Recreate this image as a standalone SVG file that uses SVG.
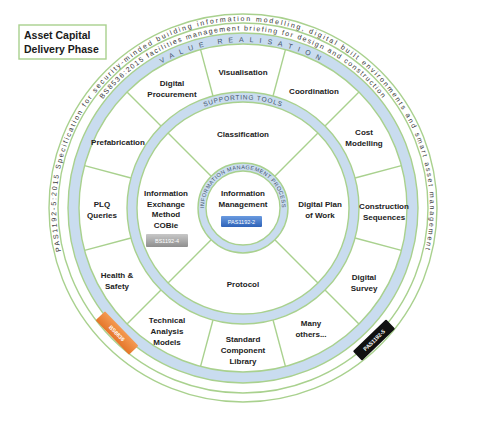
<svg xmlns="http://www.w3.org/2000/svg" width="480" height="424" viewBox="0 0 480 424">
<style>
.g{fill:none;stroke:#a9d18e;stroke-width:1.4}
.band{fill:none;stroke:#c9dcef}
.div{stroke:#a9d18e;stroke-width:1.4}
.lb{font-family:"Liberation Sans",Arial,sans-serif;font-weight:bold;font-size:8px;fill:#222;text-anchor:middle}
.ring{font-family:"Liberation Sans",Arial,sans-serif;font-size:7px;fill:#333}
.band-t{font-family:"Liberation Sans",Arial,sans-serif;fill:#44546a}
.tag{font-family:"Liberation Sans",Arial,sans-serif;font-size:5.5px;fill:#fff;text-anchor:middle}
</style>
<defs>
<linearGradient id="gBlue" x1="0" y1="0" x2="0" y2="1"><stop offset="0" stop-color="#6a9be0"/><stop offset="1" stop-color="#2e62b8"/></linearGradient>
<linearGradient id="gGray" x1="0" y1="0" x2="0" y2="1"><stop offset="0" stop-color="#c8c8c8"/><stop offset="1" stop-color="#8e8e8e"/></linearGradient>
<linearGradient id="gOrange" x1="0" y1="0" x2="0" y2="1"><stop offset="0" stop-color="#f49a52"/><stop offset="1" stop-color="#e5762a"/></linearGradient>
<path id="pPAS" d="M 67.3 272 A 187 187 0 1 1 418.7 272"/>
<path id="pBS" d="M 65.5 208 A 177.5 177.5 0 0 1 420.5 208"/>
<path id="pVR" d="M 77 208 A 166 166 0 0 1 409 208"/>
<path id="pST" d="M 134.5 208 A 108.5 108.5 0 0 1 351.5 208"/>
<path id="pIM" d="M 204 208 A 39 39 0 0 1 282 208"/>
</defs>
<rect width="480" height="424" fill="#fff"/>
<g id="rings">
<circle cx="243" cy="208" r="194" class="g" fill="#fff"/>
<circle cx="243" cy="208" r="185" class="g"/>
<circle cx="243" cy="208" r="169.5" class="band" stroke-width="11"/>
<circle cx="243" cy="208" r="175" class="g"/>
<circle cx="243" cy="208" r="164" class="g"/>
<circle cx="243" cy="208" r="111" class="band" stroke-width="10"/>
<circle cx="243" cy="208" r="116" class="g"/>
<circle cx="243" cy="208" r="106" class="g"/>
<circle cx="243" cy="208" r="41" class="band" stroke-width="8"/>
<circle cx="243" cy="208" r="45" class="g"/>
<circle cx="243" cy="208" r="37" class="g"/>
</g>
<g id="ring-texts">
<text class="ring" letter-spacing="1.85"><textPath href="#pPAS" startOffset="50%" text-anchor="middle">PAS1192-5:2015 Specification for security-minded building information modelling, digital built environments and smart asset management</textPath></text>
<text class="ring" letter-spacing="1.43"><textPath href="#pBS" startOffset="50%" text-anchor="middle">BS8536:2015 facilities management briefing for design and construction</textPath></text>
<text class="band-t" font-size="7" letter-spacing="5.9"><textPath href="#pVR" startOffset="50%" text-anchor="middle">VALUE REALISATION</textPath></text>
<text class="band-t" font-size="6.5" letter-spacing="0.8"><textPath href="#pST" startOffset="50%" text-anchor="middle">SUPPORTING TOOLS</textPath></text>
<text class="band-t" font-size="5.5" letter-spacing="0.5" fill="#2f4f7f"><textPath href="#pIM" startOffset="50%" text-anchor="middle">INFORMATION MANAGEMENT PROCESS</textPath></text>
</g>
<g id="connectors">
<line class="div" x1="285.44" y1="49.59" x2="273.02" y2="95.96"/>
<line class="div" x1="358.97" y1="92.03" x2="325.02" y2="125.98"/>
<line class="div" x1="401.41" y1="165.56" x2="355.04" y2="177.98"/>
<line class="div" x1="401.41" y1="250.44" x2="355.04" y2="238.02"/>
<line class="div" x1="358.97" y1="323.97" x2="325.02" y2="290.02"/>
<line class="div" x1="285.44" y1="366.41" x2="273.02" y2="320.04"/>
<line class="div" x1="200.56" y1="366.41" x2="212.98" y2="320.04"/>
<line class="div" x1="127.03" y1="323.97" x2="160.98" y2="290.02"/>
<line class="div" x1="84.59" y1="250.44" x2="130.96" y2="238.02"/>
<line class="div" x1="84.59" y1="165.56" x2="130.96" y2="177.98"/>
<line class="div" x1="127.03" y1="92.03" x2="160.98" y2="125.98"/>
<line class="div" x1="200.56" y1="49.59" x2="212.98" y2="95.96"/>
<line class="div" x1="317.95" y1="282.95" x2="274.82" y2="239.82"/>
<line class="div" x1="168.05" y1="282.95" x2="211.18" y2="239.82"/>
<line class="div" x1="168.05" y1="133.05" x2="211.18" y2="176.18"/>
<line class="div" x1="317.95" y1="133.05" x2="274.82" y2="176.18"/>
</g>
<g id="title">
<rect x="19" y="25" width="87" height="34" fill="#fff" stroke="#a9d18e" stroke-width="1.4"/>
<text font-family="Liberation Sans,Arial,sans-serif" font-weight="bold" font-size="10.5" fill="#1a1a1a"><tspan x="24" y="39">Asset Capital</tspan><tspan x="24" y="53">Delivery Phase</tspan></text>
</g>
<g id="n-visualisation"><text class="lb" x="243" y="75">Visualisation</text></g>
<g id="n-digital-procurement"><text class="lb"><tspan x="172" y="86">Digital</tspan><tspan x="172" y="97">Procurement</tspan></text></g>
<g id="n-coordination"><text class="lb" x="314" y="94">Coordination</text></g>
<g id="n-cost-modelling"><text class="lb"><tspan x="364" y="135">Cost</tspan><tspan x="364" y="146">Modelling</tspan></text></g>
<g id="n-construction-sequences"><text class="lb"><tspan x="384" y="209">Construction</tspan><tspan x="384" y="219.5">Sequences</tspan></text></g>
<g id="n-digital-survey"><text class="lb"><tspan x="364" y="280">Digital</tspan><tspan x="364" y="290.5">Survey</tspan></text></g>
<g id="n-many-others"><text class="lb"><tspan x="311" y="326">Many</tspan><tspan x="311" y="337">others...</tspan></text></g>
<g id="n-standard-component-library"><text class="lb"><tspan x="243" y="342">Standard</tspan><tspan x="243" y="353">Component</tspan><tspan x="243" y="363.5">Library</tspan></text></g>
<g id="n-technical-analysis-models"><text class="lb"><tspan x="167" y="323">Technical</tspan><tspan x="167" y="334">Analysis</tspan><tspan x="167" y="345">Models</tspan></text></g>
<g id="n-health-safety"><text class="lb"><tspan x="117" y="278">Health &amp;</tspan><tspan x="117" y="289">Safety</tspan></text></g>
<g id="n-plq-queries"><text class="lb"><tspan x="102" y="207">PLQ</tspan><tspan x="102" y="218">Queries</tspan></text></g>
<g id="n-prefabrication"><text class="lb" x="118" y="145">Prefabrication</text></g>
<g id="n-classification"><text class="lb" x="243" y="137">Classification</text></g>
<g id="n-digital-plan-of-work"><text class="lb"><tspan x="320" y="207">Digital Plan</tspan><tspan x="320" y="218">of Work</tspan></text></g>
<g id="n-protocol"><text class="lb" x="243" y="287">Protocol</text></g>
<g id="n-information-exchange"><text class="lb"><tspan x="166" y="196">Information</tspan><tspan x="166" y="206.5">Exchange</tspan><tspan x="166" y="217">Method</tspan><tspan x="166" y="228">COBie</tspan></text>
<rect x="146" y="234" width="42" height="13" rx="1" fill="url(#gGray)"/><text class="tag" x="167" y="242.6">BS1192-4</text></g>
<g id="n-information-management"><text class="lb"><tspan x="243" y="196">Information</tspan><tspan x="243" y="206.5">Management</tspan></text>
<rect x="221" y="216" width="41" height="11" rx="1" fill="url(#gBlue)"/><text class="tag" x="241.5" y="223.5">PAS1192-2</text></g>
<g id="tag-bs8836" transform="translate(117 333) rotate(46)"><rect x="-24" y="-6.5" width="48" height="13" rx="1" fill="url(#gOrange)"/><text class="tag" font-weight="bold" font-size="6" x="0" y="2.2">BS8836</text></g>
<g id="tag-pas1192-5" transform="translate(374 340) rotate(-44)"><rect x="-23" y="-6.5" width="46" height="13" rx="1" fill="#111"/><text class="tag" font-weight="bold" font-size="6" x="0" y="2.2">PAS1192-5</text></g>
</svg>
